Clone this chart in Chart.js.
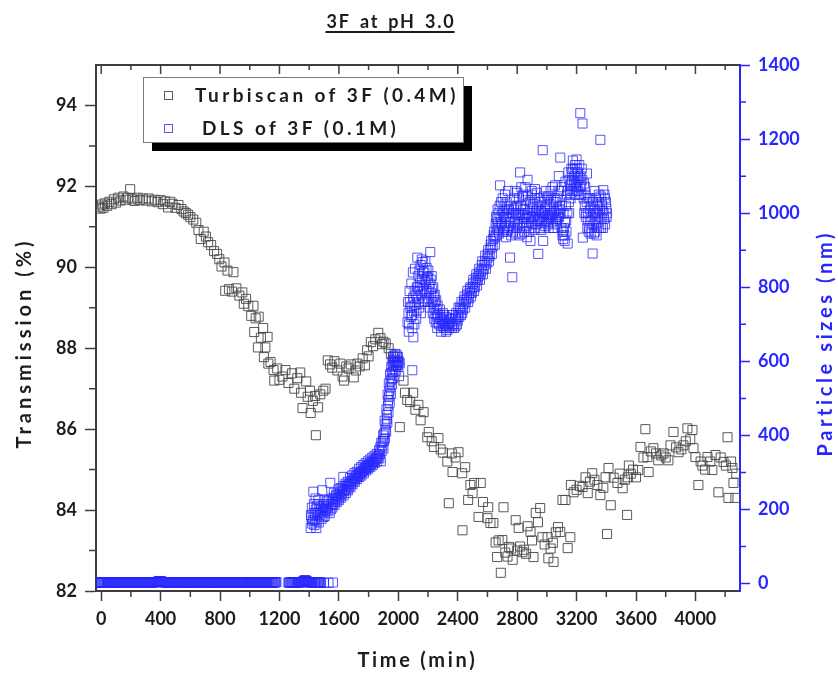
<!DOCTYPE html>
<html>
<head>
    <meta charset="UTF-8">
    <title>3F at pH 3.0</title>
    <script src="https://cdn.jsdelivr.net/npm/chart.js"></script>
    <style>
        body { margin: 0; background: #fff; }
    </style>
</head>
<body>
    <canvas id="myChart" width="838" height="673"></canvas>
    <script>
        // Turbiscan of 3F (0.4M) -> left axis, transmission in %
        const turbTime = [
            -15, -5, 5, 15, 25, 40, 55, 70, 85, 100,
            115, 130, 150, 165, 180, 195, 210, 225, 245, 260,
            280, 300, 320, 340, 360, 380, 400, 415, 430, 450,
            465, 480, 500, 520, 540, 555, 570, 585, 600, 620,
            640, 655, 670, 690, 705, 720, 740, 760, 780, 795,
            810, 830, 835, 850, 860, 880, 890, 910, 930, 950,
            960, 975, 990, 1010, 1025, 1030, 1040, 1055, 1060, 1075,
            1090, 1095, 1105, 1120, 1125, 1140, 1160, 1165, 1185, 1200,
            1220, 1240, 1260, 1285, 1300, 1320, 1340, 1345, 1355, 1380,
            1390, 1405, 1410, 1425, 1440, 1445, 1460, 1475, 1495, 1510,
            1525, 1540, 1555, 1570, 1590, 1610, 1625, 1635, 1650, 1665,
            1680, 1700, 1715, 1725, 1740, 1760, 1775, 1790, 1800, 1815,
            1830, 1845, 1865, 1880, 1890, 1900, 1915, 1935, 1950, 1965,
            1980, 1995, 2010, 2035, 2045, 2060, 2080, 2100, 2115, 2135,
            2150, 2170, 2195, 2205, 2225, 2240, 2270, 2285, 2300, 2330,
            2340, 2360, 2365, 2385, 2405, 2430, 2432, 2450, 2470, 2485,
            2500, 2510, 2540, 2555, 2570, 2600, 2605, 2620, 2640, 2655,
            2665, 2675, 2690, 2700, 2708, 2720, 2735, 2745, 2760, 2770,
            2790, 2800, 2810, 2820, 2835, 2845, 2860, 2870, 2890, 2900,
            2910, 2925, 2940, 2955, 2970, 2985, 3005, 3010, 3025, 3040,
            3045, 3060, 3075, 3090, 3105, 3125, 3140, 3158, 3162, 3180,
            3200, 3220, 3240, 3260, 3275, 3290, 3305, 3320, 3340, 3360,
            3380, 3395, 3405, 3415, 3430, 3450, 3475, 3490, 3510, 3525,
            3540, 3545, 3552, 3565, 3580, 3600, 3615, 3630, 3650, 3663,
            3677, 3685, 3700, 3717, 3735, 3750, 3770, 3785, 3800, 3818,
            3832, 3852, 3870, 3886, 3905, 3919, 3935, 3946, 3965, 3980,
            3987, 4000, 4020, 4035, 4047, 4065, 4081, 4100, 4114, 4135,
            4155, 4170, 4189, 4205, 4216, 4222, 4240, 4249, 4256, 4269,
            4275
        ];
        const turbTrans = [
            91.50, 91.45, 91.55, 91.47, 91.58, 91.52, 91.62, 91.56, 91.68, 91.60,
            91.72, 91.65, 91.75, 91.67, 91.72, 91.93, 91.68, 91.64, 91.72, 91.66,
            91.70, 91.65, 91.70, 91.63, 91.67, 91.61, 91.66, 91.56, 91.63, 91.48,
            91.62, 91.57, 91.47, 91.54, 91.44, 91.38, 91.34, 91.30, 91.24, 91.18,
            91.10, 90.92, 90.70, 90.88, 90.76, 90.62, 90.55, 90.40, 90.33, 90.20,
            90.02, 90.12, 89.42, 89.92, 89.46, 89.40, 89.88, 89.48, 89.30, 89.38,
            89.10, 89.22, 89.04, 88.80, 89.05, 88.40, 88.74, 88.02, 88.78, 88.26,
            88.50, 87.78, 88.02, 88.28, 87.62, 87.66, 87.46, 87.20, 87.50, 87.22,
            87.30, 87.46, 87.14, 87.38, 87.00, 87.26, 87.40, 86.90, 86.52, 87.18,
            86.80, 86.95, 86.40, 86.70, 86.82, 85.85, 86.54, 86.86, 86.95, 87.00,
            87.70, 87.60, 87.52, 87.68, 87.45, 87.62, 87.30, 87.20, 87.55, 87.50,
            87.60, 87.28, 87.45, 87.62, 87.55, 87.75, 87.58, 87.95, 87.80, 88.15,
            88.05, 88.22, 88.38, 88.25, 88.10, 88.16, 88.12, 88.00, 87.86, 87.78,
            87.65, 87.58, 86.05, 87.20, 86.90, 86.72, 86.67, 86.90, 86.48, 86.60,
            86.22, 86.42, 85.80, 85.93, 85.70, 85.56, 85.78, 85.50, 85.42, 85.20,
            84.17, 85.40, 84.94, 85.30, 85.43, 84.91, 83.50, 85.06, 84.25, 84.62,
            84.42, 84.67, 83.83, 84.67, 84.20, 83.80, 84.07, 83.68, 83.68, 83.20,
            82.84, 83.25, 82.45, 83.26, 84.07, 82.95, 82.85, 83.09, 83.05, 82.77,
            83.75, 83.00, 83.56, 83.10, 82.96, 83.02, 82.92, 83.60, 83.46, 83.25,
            82.84, 83.93, 83.70, 84.05, 83.33, 83.15, 83.33, 82.81, 83.05, 83.19,
            82.72, 83.45, 83.58, 83.46, 84.25, 84.25, 83.06, 83.33, 84.62, 84.44,
            84.50, 84.60, 84.57, 84.81, 84.42, 84.70, 84.91, 84.75, 84.62, 84.37,
            84.55, 84.81, 83.41, 85.04, 84.12, 84.80, 84.67, 84.90, 84.54, 84.75,
            83.88, 84.81, 85.10, 84.90, 85.00, 84.81, 84.99, 85.56, 85.30, 86.00,
            85.31, 84.94, 85.45, 85.53, 85.40, 85.23, 85.35, 85.40, 85.30, 85.23,
            85.60, 85.93, 85.55, 85.43, 85.50, 85.60, 85.70, 86.02, 85.75, 85.98,
            85.53, 85.31, 84.62, 85.20, 85.10, 85.00, 85.31, 85.20, 84.99, 85.36,
            84.44, 85.30, 85.19, 85.10, 85.80, 84.30, 85.20, 85.04, 84.67, 84.30,
            84.90
        ];

        // DLS of 3F (0.1M) -> right axis, particle size in nm
        // flat part near zero, sampled every 5 min (gap around 1200 min)
        const dlsFlatTime = [
            -20, -15, -10, -5, 0, 5, 10, 15, 20, 25,
            30, 35, 40, 45, 50, 55, 60, 65, 70, 75,
            80, 85, 90, 95, 100, 105, 110, 115, 120, 125,
            130, 135, 140, 145, 150, 155, 160, 165, 170, 175,
            180, 185, 190, 195, 200, 205, 210, 215, 220, 225,
            230, 235, 240, 245, 250, 255, 260, 265, 270, 275,
            280, 285, 290, 295, 300, 305, 310, 315, 320, 325,
            330, 335, 340, 345, 350, 355, 360, 365, 370, 375,
            380, 385, 390, 395, 400, 405, 410, 415, 420, 425,
            430, 435, 440, 445, 450, 455, 460, 465, 470, 475,
            480, 485, 490, 495, 500, 505, 510, 515, 520, 525,
            530, 535, 540, 545, 550, 555, 560, 565, 570, 575,
            580, 585, 590, 595, 600, 605, 610, 615, 620, 625,
            630, 635, 640, 645, 650, 655, 660, 665, 670, 675,
            680, 685, 690, 695, 700, 705, 710, 715, 720, 725,
            730, 735, 740, 745, 750, 755, 760, 765, 770, 775,
            780, 785, 790, 795, 800, 805, 810, 815, 820, 825,
            830, 835, 840, 845, 850, 855, 860, 865, 870, 875,
            880, 885, 890, 895, 900, 905, 910, 915, 920, 925,
            930, 935, 940, 945, 950, 955, 960, 965, 970, 975,
            980, 985, 990, 995, 1000, 1005, 1010, 1015, 1020, 1025,
            1030, 1035, 1040, 1045, 1050, 1055, 1060, 1065, 1070, 1075,
            1080, 1085, 1090, 1095, 1100, 1105, 1110, 1115, 1120, 1125,
            1130, 1135, 1140, 1145, 1150, 1155, 1160, 1165, 1170, 1175,
            1180,
            1260, 1265, 1270, 1275, 1280, 1285, 1290, 1295, 1300, 1305,
            1310, 1315, 1320, 1325, 1330, 1335, 1340, 1345, 1350, 1355,
            1360, 1365, 1370, 1375, 1380, 1385, 1390, 1395, 1400, 1405,
            1410, 1415, 1420, 1425, 1430, 1435, 1440, 1445, 1450, 1455,
            1460, 1465, 1470, 1475, 1480,
            1500, 1530, 1560
        ];
        const dlsFlatSize = [
            3, 2, 3, 3, 2, 4, 3, 2, 3, 4,
            3, 2, 3, 3, 4, 3, 2, 3, 4, 2,
            3, 3, 2, 3, 4, 4, 3, 2, 3, 3,
            3, 2, 2, 3, 3, 4, 3, 2, 4, 3,
            2, 3, 3, 3, 4, 3, 3, 2, 2, 3,
            3, 4, 4, 3, 3, 2, 3, 4, 3, 3,
            2, 3, 3, 4, 4, 3, 3, 2, 3, 3,
            2, 3, 3, 4, 3, 4, 3, 4, 4, 4,
            5, 6, 7, 7, 6, 6, 5, 4, 4, 3,
            3, 3, 3, 2, 2, 3, 3, 4, 4, 3,
            3, 2, 3, 3, 2, 3, 3, 4, 4, 3,
            3, 2, 3, 3, 2, 3, 3, 4, 3, 3,
            4, 3, 3, 2, 2, 3, 3, 4, 3, 3,
            4, 3, 3, 2, 2, 3, 3, 4, 3, 3,
            3, 3, 4, 3, 3, 2, 2, 3, 3, 4,
            3, 3, 4, 3, 3, 2, 2, 3, 3, 4,
            3, 4, 3, 3, 4, 3, 3, 2, 2, 3,
            3, 3, 3, 4, 4, 3, 3, 2, 3, 3,
            2, 3, 3, 3, 3, 4, 4, 3, 3, 2,
            3, 2, 3, 3, 4, 3, 3, 2, 3, 3,
            3, 2, 2, 3, 3, 4, 3, 3, 4, 3,
            3, 3, 3, 4, 3, 3, 2, 3, 3, 4,
            3, 2, 3, 3, 2, 3, 3, 4, 4, 3,
            3, 3, 3, 2, 2, 3, 3, 3, 3, 4,
            4,
            3, 3, 2, 3, 3, 4, 4, 3, 3, 2,
            3, 3, 3, 4, 4, 3, 3, 3, 4, 5,
            6, 8, 9, 9, 8, 6, 5, 4, 4, 3,
            3, 3, 3, 2, 2, 3, 3, 4, 3, 3,
            2, 3, 3, 3, 2,
            3, 2, 3
        ];
        // fast growth 1400 - 2010 min
        const dlsRiseTime = [
            1410, 1415, 1420, 1428, 1430, 1435, 1440, 1445, 1450, 1455,
            1462, 1465, 1470, 1478, 1485, 1488, 1492, 1500, 1505, 1512,
            1518, 1525, 1530, 1538, 1542, 1548, 1555, 1562, 1570, 1578,
            1585, 1592, 1600, 1608, 1615, 1622, 1630, 1632, 1640, 1648,
            1655, 1662, 1670, 1678, 1685, 1692, 1700, 1708, 1715, 1722,
            1730, 1738, 1745, 1752, 1760, 1768, 1775, 1782, 1790, 1798,
            1805, 1812, 1820, 1828, 1835, 1842, 1850, 1858, 1865, 1872,
            1879, 1882, 1888, 1895, 1900, 1905, 1910, 1915, 1918, 1922,
            1926, 1930, 1934, 1938, 1942, 1946, 1950, 1955, 1958, 1962,
            1966, 1970, 1975, 1980, 1985, 1990, 1995, 2000, 2005, 2010,
            // second reading pass through the same streak
            1412, 1418, 1425, 1432, 1438, 1443, 1448, 1452, 1458, 1468,
            1475, 1482, 1496, 1502, 1508, 1515, 1522, 1535, 1545, 1552,
            1560, 1566, 1574, 1582, 1590, 1598, 1605, 1612, 1620, 1628,
            1636, 1645, 1652, 1660, 1668, 1675, 1683, 1690, 1698, 1705,
            1712, 1720, 1728, 1735, 1742, 1750, 1758, 1765, 1772, 1780,
            1788, 1795, 1802, 1810, 1818, 1825, 1832, 1840, 1848, 1855,
            1862, 1870, 1876, 1885, 1892, 1898, 1903, 1908, 1913, 1920,
            1924, 1928, 1932, 1936, 1940, 1944, 1948, 1952, 1956, 1960,
            1964, 1968, 1972, 1978, 1983, 1988, 1993, 1998, 2003
        ];
        const dlsRiseSize = [
            150, 178, 162, 248, 190, 158, 172, 200, 168, 185,
            225, 165, 190, 205, 175, 252, 195, 210, 182, 200,
            222, 195, 210, 190, 272, 215, 205, 228, 212, 235,
            220, 240, 225, 248, 232, 252, 288, 238, 255, 245,
            265, 252, 270, 260, 278, 268, 282, 275, 290, 282,
            295, 288, 300, 292, 305, 298, 312, 305, 318, 310,
            322, 315, 328, 320, 332, 326, 338, 330, 345, 338,
            368, 330, 358, 385, 365, 405, 392, 430, 410, 455,
            435, 480, 462, 505, 488, 530, 512, 552, 538, 570,
            555, 588, 572, 602, 590, 612, 598, 585, 560, 595,
            185, 205, 170, 215, 190, 230, 150, 210, 192, 215,
            185, 200, 180, 225, 195, 215, 205, 225, 200, 230,
            215, 245, 222, 240, 228, 255, 235, 258, 242, 262,
            250, 270, 255, 275, 262, 285, 270, 292, 278, 298,
            285, 302, 290, 310, 296, 315, 302, 320, 308, 325,
            312, 330, 318, 335, 322, 340, 328, 345, 335, 350,
            340, 360, 350, 380, 372, 400, 385, 440, 415, 470,
            445, 510, 495, 540, 520, 565, 548, 585, 570, 600,
            590, 615, 605, 620, 575, 618, 590, 612, 600
        ];
        // second stage 2060 - 3410 min
        const dlsLateTime = [
            2068, 2072, 2078, 2084, 2090, 2094, 2095, 2100, 2101, 2105,
            2110, 2115, 2120, 2125, 2130, 2135, 2140, 2145, 2150, 2155,
            2160, 2165, 2170, 2175, 2180, 2185, 2190, 2195, 2200, 2205,
            2210, 2215, 2220, 2225, 2230, 2235, 2240, 2245, 2250, 2255,
            2260, 2265, 2270, 2280, 2285, 2290, 2300, 2305, 2310, 2320,
            2325, 2330, 2340, 2345, 2350, 2360, 2365, 2370, 2380, 2385,
            2390, 2400, 2405, 2410, 2420, 2425, 2430, 2440, 2445, 2450,
            2460, 2465, 2470, 2480, 2485, 2490, 2500, 2505, 2510, 2520,
            2525, 2530, 2540, 2545, 2550, 2560, 2565, 2570, 2580, 2585,
            2590, 2600, 2605, 2610, 2620, 2625, 2630, 2640, 2645, 2650,
            2655, 2660, 2665, 2670, 2675, 2680, 2685, 2690, 2700, 2705,
            2710, 2715, 2720, 2725, 2730, 2735, 2740, 2745, 2752, 2755,
            2760, 2767, 2770, 2775, 2780, 2785, 2790, 2795, 2800, 2805,
            2810, 2815, 2820, 2825, 2830, 2835, 2840, 2845, 2850, 2855,
            2860, 2865, 2870, 2875, 2880, 2885, 2890, 2895, 2900, 2905,
            2910, 2915, 2920, 2925, 2930, 2935, 2942, 2945, 2950, 2955,
            2960, 2965, 2972, 2975, 2980, 2985, 2990, 2995, 3000, 3005,
            3010, 3015, 3020, 3025, 3030, 3035, 3040, 3045, 3050, 3055,
            3060, 3065, 3070, 3075, 3080, 3085, 3090, 3095, 3100, 3105,
            3110, 3115, 3120, 3125, 3130, 3135, 3140, 3145, 3150, 3155,
            3160, 3165, 3170, 3175, 3180, 3185, 3190, 3195, 3200, 3205,
            3210, 3215, 3220, 3225, 3230, 3235, 3240, 3242, 3250, 3255,
            3260, 3265, 3270, 3275, 3280, 3285, 3290, 3295, 3300, 3308,
            3310, 3315, 3320, 3325, 3330, 3335, 3340, 3345, 3350, 3355,
            3360, 3365, 3370, 3375, 3380, 3385, 3390, 3400, 3405,
            // second reading pass through the same cloud
            2062, 2066, 2070, 2076, 2082, 2088, 2092, 2098, 2103, 2108,
            2112, 2118, 2122, 2128, 2132, 2138, 2142, 2148, 2152, 2158,
            2162, 2168, 2172, 2178, 2182, 2188, 2192, 2198, 2202, 2208,
            2212, 2218, 2222, 2228, 2232, 2238, 2242, 2248, 2252, 2258,
            2262, 2268, 2275, 2282, 2288, 2295, 2302, 2308, 2315, 2322,
            2335, 2342, 2355, 2362, 2375, 2388, 2395, 2402, 2415, 2422,
            2435, 2442, 2455, 2462, 2475, 2482, 2495, 2502, 2515, 2522,
            2535, 2542, 2555, 2562, 2575, 2582, 2595, 2602, 2615, 2622,
            2635, 2642, 2652, 2658, 2662, 2668, 2672, 2678, 2682, 2688,
            2692, 2698, 2702, 2708, 2712, 2718, 2722, 2728, 2732, 2738,
            2742, 2748, 2758, 2762, 2772, 2778, 2782, 2788, 2792, 2798,
            2802, 2808, 2812, 2818, 2822, 2828, 2832, 2838, 2842, 2848,
            2852, 2858, 2862, 2868, 2872, 2878, 2882, 2888, 2892, 2898,
            2902, 2908, 2912, 2918, 2922, 2928, 2932, 2938, 2948, 2952,
            2958, 2962, 2968, 2978, 2982, 2988, 2992, 2998, 3002, 3008,
            3012, 3018, 3022, 3028, 3032, 3038, 3042, 3048, 3052, 3058,
            3062, 3068, 3072, 3078, 3082, 3088, 3092, 3098, 3102, 3108,
            3112, 3118, 3122, 3128, 3132, 3138, 3142, 3148, 3152, 3158,
            3162, 3168, 3172, 3178, 3182, 3188, 3192, 3198, 3202, 3208,
            3212, 3218, 3222, 3228, 3232, 3238, 3248, 3252, 3258, 3262,
            3268, 3272, 3278, 3282, 3288, 3292, 3298, 3302, 3312, 3318,
            3322, 3328, 3332, 3338, 3342, 3348, 3352, 3358, 3362, 3368,
            3372, 3378, 3382, 3388, 3392, 3398, 3402
        ];
        const dlsLateSize = [
            730, 700, 760, 720, 748, 576, 690, 772, 665, 735,
            790, 752, 715, 800, 770, 830, 745, 812, 860, 780,
            822, 868, 795, 840, 762, 815, 852, 790, 825, 770,
            810, 895, 785, 830, 760, 800, 745, 780, 730, 765,
            720, 750, 705, 740, 715, 695, 730, 710, 690, 720,
            700, 685, 715, 695, 705, 690, 725, 700, 715, 695,
            730, 710, 745, 720, 740, 760, 730, 755, 775, 745,
            770, 790, 760, 785, 800, 775, 800, 820, 790, 815,
            835, 805, 830, 850, 820, 845, 870, 835, 860, 885,
            850, 880, 900, 870, 905, 925, 890, 930, 950, 915,
            970, 940, 985, 955, 1000, 960, 1075, 975, 1005, 950,
            990, 1020, 965, 935, 1030, 985, 955, 1010, 880, 975,
            940, 827, 1000, 960, 1040, 980, 945, 1015, 1055, 970,
            995, 940, 1110, 1020, 975, 1045, 990, 950, 1010, 1070,
            985, 935, 1090, 1000, 960, 1030, 925, 975, 1050, 990,
            1010, 955, 1065, 1000, 970, 1020, 890, 985, 1040, 960,
            1005, 975, 1170, 925, 1000, 1030, 965, 990, 1015, 970,
            1045, 985, 1000, 1060, 975, 995, 985, 1030, 960, 1075,
            1000, 980, 1040, 990, 1100, 1010, 1150, 1060, 1020, 940,
            930, 960, 925, 1085, 980, 1050, 918, 1110, 1000, 1075,
            1040, 1120, 1090, 1142, 1060, 1100, 1130, 1070, 1145, 1085,
            1110, 1050, 1095, 1270, 1075, 1120, 1242, 934, 1080, 1020,
            1050, 1000, 1107, 980, 1040, 960, 1010, 945, 990, 891,
            1030, 970, 1060, 950, 1000, 940, 1020, 975, 1050, 990,
            1198, 960, 1030, 1005, 1062, 985, 1040, 1012, 1000,
            705, 760, 680, 790, 745, 810, 725, 840, 760, 700,
            850, 780, 735, 880, 800, 760, 845, 790, 730, 875,
            805, 840, 760, 820, 870, 785, 830, 760, 845, 795,
            745, 820, 760, 795, 730, 775, 715, 760, 705, 740,
            690, 725, 700, 720, 680, 710, 695, 725, 700, 680,
            705, 690, 715, 700, 690, 715, 700, 725, 745, 725,
            740, 765, 760, 780, 770, 795, 785, 810, 800, 825,
            820, 840, 835, 860, 850, 870, 865, 890, 885, 915,
            910, 940, 935, 990, 960, 1010, 975, 945, 1020, 990,
            1030, 970, 1040, 1000, 960, 1050, 990, 1010, 950, 1060,
            1000, 965, 1020, 990, 950, 1010, 975, 1060, 1000, 960,
            1020, 985, 1040, 960, 1000, 1070, 945, 1010, 1050, 975,
            995, 1035, 965, 1000, 1045, 985, 950, 1015, 990, 1060,
            970, 1025, 990, 1040, 960, 1005, 1055, 980, 1010, 990,
            1030, 955, 1000, 1045, 975, 1010, 1060, 980, 1040, 995,
            960, 1025, 990, 1035, 1000, 1070, 960, 1005, 1040, 985,
            1030, 970, 1010, 1060, 990, 1020, 1000, 960, 1070, 950,
            1000, 940, 975, 1020, 950, 1000, 1060, 1030, 1090, 1050,
            1080, 1110, 1060, 1120, 1080, 1050, 1110, 1080, 1120, 1060,
            1090, 1130, 1070, 1100, 1050, 1090, 1040, 1000, 1070, 990,
            1030, 960, 1000, 950, 1040, 980, 1020, 960, 1000, 945,
            1010, 980, 1040, 960, 1000, 1030, 960, 1010, 1045, 985,
            1020, 960, 1000, 1050, 970, 1030, 990
        ];

        // axes
        const timeRange = [-35, 4300];
        const transRange = [82, 95];
        const sizeRange = [-20, 1400];
        const timeTicks = [0, 400, 800, 1200, 1600, 2000, 2400, 2800, 3200, 3600, 4000];
        const transTicks = [82, 84, 86, 88, 90, 92, 94];
        const sizeTicks = [0, 200, 400, 600, 800, 1000, 1200, 1400];

        const BLUE = '#2626ff';
        const INK = '#1c1c1c';
        const AXIS = '#3e3e3e';
        const GREY_MARK = 'rgba(72, 72, 72, 0.9)';
        const BLUE_MARK = 'rgba(38, 38, 255, 0.78)';
        const tickFont = { family: 'Lato', size: 18, weight: 'bold' };

        const toPoints = (xs, ys) => xs.map((x, i) => ({ x: x, y: ys[i] }));
        const mids = (vals) => vals.slice(1).map((v, i) => (v + vals[i]) / 2);

        function spaced(ctx, text, x, y, spacing, rot) {
            ctx.save();
            ctx.translate(x, y);
            if (rot) ctx.rotate(rot);
            ctx.letterSpacing = spacing + 'px';
            ctx.textAlign = 'center';
            ctx.textBaseline = 'middle';
            ctx.fillText(text, spacing / 2, 0);
            ctx.restore();
        }

        // frame details, minor ticks, titles and the shadowed legend box
        const decor = {
            id: 'decor',
            afterDraw(chart) {
                const { ctx, chartArea: a, scales } = chart;
                const sx = scales.x, sl = scales.y, sr = scales.y2;
                ctx.save();

                // top frame with inward ticks
                ctx.strokeStyle = AXIS;
                ctx.lineWidth = 2;
                ctx.beginPath();
                ctx.moveTo(a.left - 1, a.top);
                ctx.lineTo(a.right, a.top);
                ctx.stroke();
                ctx.lineWidth = 1.5;
                ctx.beginPath();
                timeTicks.forEach(v => {
                    const p = sx.getPixelForValue(v);
                    ctx.moveTo(p, a.top); ctx.lineTo(p, a.top + 9);
                });
                mids(timeTicks).concat([4200]).forEach(v => {
                    const p = sx.getPixelForValue(v);
                    ctx.moveTo(p, a.top); ctx.lineTo(p, a.top + 5);
                    ctx.moveTo(p, a.bottom); ctx.lineTo(p, a.bottom + 6);
                });
                mids(transTicks).forEach(v => {
                    const p = sl.getPixelForValue(v);
                    ctx.moveTo(a.left, p); ctx.lineTo(a.left - 7, p);
                });
                ctx.stroke();
                ctx.strokeStyle = BLUE;
                ctx.beginPath();
                mids(sizeTicks).forEach(v => {
                    const p = sr.getPixelForValue(v);
                    ctx.moveTo(a.right, p); ctx.lineTo(a.right + 6, p);
                });
                ctx.stroke();

                // chart title, underlined
                ctx.fillStyle = INK;
                ctx.font = 'bold 18px Lato';
                ctx.letterSpacing = '1.8px';
                ctx.wordSpacing = '3px';
                ctx.textAlign = 'center';
                ctx.textBaseline = 'middle';
                ctx.fillText('3F at pH 3.0', 391, 22);
                const tw = ctx.measureText('3F at pH 3.0').width;
                ctx.letterSpacing = '0px';
                ctx.wordSpacing = '0px';
                ctx.fillRect(390 - tw / 2, 31, tw, 2);

                // axis titles
                ctx.font = 'bold 20px Lato';
                ctx.fillStyle = INK;
                spaced(ctx, 'Transmission (%)', 25, 345, 4, -Math.PI / 2);
                spaced(ctx, 'Time (min)', 416, 661, 2.7, 0);
                ctx.fillStyle = BLUE;
                spaced(ctx, 'Particle sizes (nm)', 826, 345, 3.6, -Math.PI / 2);

                // legend with hard black shadow
                const box = { x: 143, y: 77, w: 320, h: 65 };
                ctx.fillStyle = '#000';
                ctx.fillRect(box.x + 9, box.y + 9, box.w, box.h);
                ctx.fillStyle = '#fff';
                ctx.fillRect(box.x, box.y, box.w, box.h);
                ctx.strokeStyle = '#7a7a7a';
                ctx.lineWidth = 1;
                ctx.strokeRect(box.x + 0.5, box.y + 0.5, box.w, box.h);

                ctx.lineWidth = 1;
                ctx.strokeStyle = GREY_MARK;
                ctx.strokeRect(164.5, 91.5, 8, 8);
                ctx.strokeStyle = BLUE_MARK;
                ctx.strokeRect(164.5, 124.5, 8, 8);

                ctx.font = 'bold 19px Lato';
                ctx.fillStyle = INK;
                ctx.textAlign = 'left';
                ctx.textBaseline = 'middle';
                ctx.letterSpacing = '3.4px';
                ctx.fillText('Turbiscan of 3F (0.4M)', 195, 96);
                ctx.fillText('DLS of 3F (0.1M)', 202, 129);
                ctx.letterSpacing = '0px';
                ctx.restore();
            }
        };

        const ctx = document.getElementById('myChart').getContext('2d');
        const chart = new Chart(ctx, {
            type: 'scatter',
            data: {
                datasets: [
                    {
                        label: 'DLS of 3F (0.1M)',
                        data: toPoints(dlsFlatTime, dlsFlatSize)
                            .concat(toPoints(dlsRiseTime, dlsRiseSize))
                            .concat(toPoints(dlsLateTime, dlsLateSize)),
                        yAxisID: 'y2',
                        pointStyle: 'rect',
                        pointRadius: 6.4,
                        borderWidth: 1,
                        borderColor: BLUE_MARK,
                        backgroundColor: 'rgba(0,0,0,0)',
                        order: 0
                    },
                    {
                        label: 'Turbiscan of 3F (0.4M)',
                        data: toPoints(turbTime, turbTrans),
                        yAxisID: 'y',
                        pointStyle: 'rect',
                        pointRadius: 6.4,
                        borderWidth: 1,
                        borderColor: GREY_MARK,
                        backgroundColor: 'rgba(0,0,0,0)',
                        order: 1
                    }
                ]
            },
            options: {
                responsive: false,
                devicePixelRatio: 1,
                animation: false,
                events: [],
                layout: { padding: { top: 65, left: 0, right: 0, bottom: 0 } },
                plugins: {
                    legend: { display: false },
                    title: { display: false },
                    tooltip: { enabled: false }
                },
                scales: {
                    x: {
                        type: 'linear',
                        position: 'bottom',
                        min: timeRange[0],
                        max: timeRange[1],
                        afterBuildTicks: s => { s.ticks = timeTicks.map(v => ({ value: v })); },
                        afterFit: s => { s.height = 82; },
                        ticks: { font: tickFont, color: INK, padding: 7, autoSkip: false, maxRotation: 0, callback: v => String(v) },
                        grid: { drawOnChartArea: false, tickLength: 10, tickColor: AXIS, tickWidth: 1.5 },
                        border: { color: AXIS, width: 2 }
                    },
                    y: {
                        type: 'linear',
                        position: 'left',
                        min: transRange[0],
                        max: transRange[1],
                        afterBuildTicks: s => { s.ticks = transTicks.map(v => ({ value: v })); },
                        afterFit: s => { s.width = 96; },
                        ticks: { font: tickFont, color: INK, padding: 8, autoSkip: false, callback: v => String(v) },
                        grid: { drawOnChartArea: false, tickLength: 11, tickColor: AXIS, tickWidth: 1.5 },
                        border: { color: AXIS, width: 2 }
                    },
                    y2: {
                        type: 'linear',
                        position: 'right',
                        min: sizeRange[0],
                        max: sizeRange[1],
                        afterBuildTicks: s => { s.ticks = sizeTicks.map(v => ({ value: v })); },
                        afterFit: s => { s.width = 98; },
                        ticks: { font: tickFont, color: BLUE, padding: 8, autoSkip: false, callback: v => String(v) },
                        grid: { drawOnChartArea: false, tickLength: 10, tickColor: BLUE, tickWidth: 1.5 },
                        border: { color: BLUE, width: 2 }
                    }
                }
            },
            plugins: [decor]
        });
    </script>
</body>
</html>
